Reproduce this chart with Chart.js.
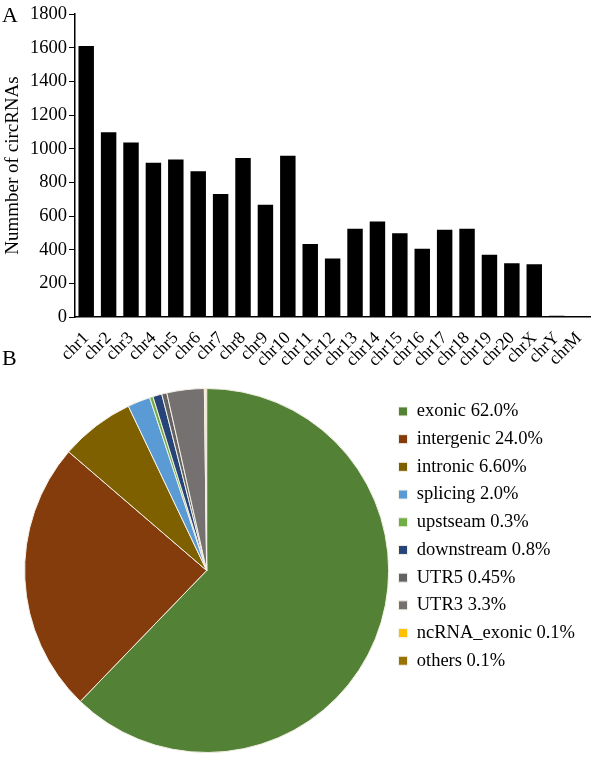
<!DOCTYPE html>
<html>
<head>
<meta charset="utf-8">
<script src="https://cdn.jsdelivr.net/npm/chart.js@4.4.1/dist/chart.umd.min.js"></script>
<style>
  body { margin: 0; background: #fff; font-family: "Liberation Serif", serif; }
  #wrap { position: relative; width: 597px; height: 757px; }
  .panel { position: absolute; font-size: 22px; line-height: 1; color: #000; }
  #barChart { position: absolute; left: 0; top: 0; }
  #pieChart { position: absolute; left: 0; top: 388px; }
</style>
</head>
<body>
<div id="wrap">
  <canvas id="barChart" width="597" height="372"></canvas>
  <canvas id="pieChart" width="585" height="365"></canvas>
  <div class="panel" style="left:2px;top:4px;">A</div>
  <div class="panel" style="left:2px;top:347px;">B</div>
</div>
<script>
const serif = 'Liberation Serif';

// panel A: circRNAs per chromosome
const chromosomes = ['chr1', 'chr2', 'chr3', 'chr4', 'chr5', 'chr6', 'chr7', 'chr8', 'chr9', 'chr10',
  'chr11', 'chr12', 'chr13', 'chr14', 'chr15', 'chr16', 'chr17', 'chr18', 'chr19', 'chr20',
  'chrX', 'chrY', 'chrM'];
const circCounts = [1610, 1097, 1036, 916, 936, 866, 731, 944, 667, 958,
  434, 348, 525, 567, 498, 406, 519, 525, 370, 320,
  313, 8, 4];
const yMin = 0, yMax = 1800, yStep = 200;

// panel B: genomic origin of circRNAs
const originLabels = ['exonic 62.0%', 'intergenic 24.0%', 'intronic 6.60%', 'splicing 2.0%',
  'upstseam 0.3%', 'downstream 0.8%', 'UTR5 0.45%', 'UTR3 3.3%', 'ncRNA_exonic 0.1%', 'others 0.1%'];
const originPct = [62.0, 24.0, 6.6, 2.0, 0.3, 0.8, 0.45, 3.3, 0.1, 0.1];
const originColors = ['#538135', '#843c0c', '#7f6000', '#5b9bd5', '#70ad47',
  '#264478', '#636363', '#767171', '#ffc000', '#997300'];

function build() {
  Chart.defaults.font.family = serif;
  Chart.defaults.color = '#000';

  new Chart(document.getElementById('barChart'), {
    type: 'bar',
    data: {
      labels: chromosomes,
      datasets: [{
        data: circCounts,
        backgroundColor: '#000',
        barPercentage: 0.69,
        categoryPercentage: 1
      }]
    },
    options: {
      responsive: false,
      animation: false,
      layout: { padding: { top: 14, right: 4 } },
      plugins: { legend: { display: false }, tooltip: { enabled: false } },
      scales: {
        x: {
          grid: { display: false },
          border: { color: '#000', width: 1.5 },
          ticks: { autoSkip: false, font: { family: serif, size: 17.5 }, minRotation: 45, maxRotation: 45, padding: 3 },
          afterFit: (s) => { s.height = 55; }
        },
        y: {
          min: yMin,
          max: yMax,
          grid: { drawOnChartArea: false, drawTicks: true, tickLength: 6, color: '#000' },
          border: { color: '#000', width: 1.5 },
          ticks: { stepSize: yStep, font: { family: serif, size: 18.5 }, padding: 2, callback: (v) => String(v) },
          title: { display: true, text: 'Nummber of circRNAs', font: { family: serif, size: 19 }, padding: { top: 2, bottom: 0 } },
          afterFit: (s) => { s.width = 75; }
        }
      }
    }
  });

  new Chart(document.getElementById('pieChart'), {
    type: 'pie',
    data: {
      labels: originLabels,
      datasets: [{
        data: originPct,
        backgroundColor: originColors,
        borderColor: '#f3f0e6',
        borderWidth: 1
      }]
    },
    options: {
      responsive: false,
      animation: false,
      layout: { padding: { left: 24 } },
      plugins: {
        tooltip: { enabled: false },
        legend: {
          position: 'right',
          align: 'start',
          title: { display: true, text: ' ', font: { family: serif, size: 5, lineHeight: 1 }, padding: 0 },
          labels: { boxWidth: 9, boxHeight: 9, padding: 9.2, font: { family: serif, size: 18.5 } }
        }
      }
    }
  });
}

Promise.all([
  document.fonts.load("17px 'Liberation Serif'"),
  document.fonts.ready
]).then(build, build);
</script>
</body>
</html>
